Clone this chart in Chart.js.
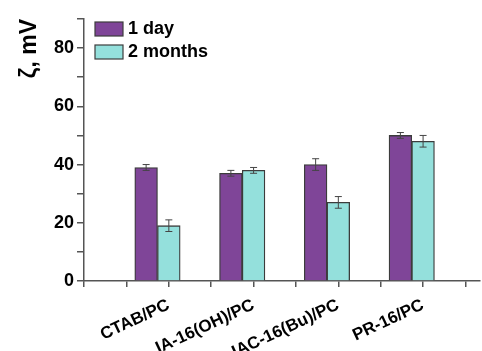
<!DOCTYPE html>
<html>
<head>
<meta charset="utf-8">
<script src="https://cdn.jsdelivr.net/npm/chart.js@4"></script>
<style>
  html, body { margin: 0; padding: 0; background: #fff; }
  #wrap { width: 482px; height: 351px; }
</style>
</head>
<body>
<div id="wrap"><canvas id="c" width="482" height="351"></canvas></div>
<script>
// Zeta potential of mixed micelles, freshly prepared vs. after storage
const categories = ['CTAB/PC', 'IA-16(OH)/PC', 'IAC-16(Bu)/PC', 'PR-16/PC'];
const oneDay = [39, 37, 40, 50];
const oneDayErr = [1, 1, 2, 1];
const twoMonths = [19, 38, 27, 48];
const twoMonthsErr = [2, 1, 2, 2];
const seriesNames = ['1 day', '2 months'];
const yTicks = [0, 20, 40, 60, 80];

const purple = '#7f4598';
const teal = '#94e0dc';
const edge = '#3c3c3c';
// each pair is drawn so that the second bar is centred on the category tick
const pairShift = 0.133;

const pts = (vals) => vals.map((v, i) => ({ x: i + 1 - pairShift, y: v }));

const errorBars = {
  id: 'errorBars',
  afterDatasetsDraw(chart) {
    const { ctx } = chart;
    const ys = chart.scales.y;
    ctx.save();
    ctx.strokeStyle = '#444';
    ctx.lineWidth = 1;
    chart.data.datasets.forEach((ds, di) => {
      const meta = chart.getDatasetMeta(di);
      meta.data.forEach((bar, i) => {
        const v = ds.data[i].y, e = ds.err[i];
        const x = bar.x;
        const yt = ys.getPixelForValue(v + e), yb = ys.getPixelForValue(v - e);
        ctx.beginPath();
        ctx.moveTo(x, yt); ctx.lineTo(x, yb);
        ctx.moveTo(x - 3.5, yt); ctx.lineTo(x + 3.5, yt);
        ctx.moveTo(x - 3.5, yb); ctx.lineTo(x + 3.5, yb);
        ctx.stroke();
      });
    });
    ctx.restore();
  }
};

const boxLegend = {
  id: 'boxLegend',
  afterDraw(chart) {
    const { ctx } = chart;
    const x0 = chart.chartArea.left + 11;
    let y0 = chart.chartArea.top + 3;
    ctx.save();
    ctx.font = 'bold 18px "Liberation Sans", Arial, sans-serif';
    ctx.textBaseline = 'middle';
    chart.data.datasets.forEach((ds) => {
      ctx.fillStyle = ds.backgroundColor;
      ctx.fillRect(x0, y0, 28, 14);
      ctx.strokeStyle = edge;
      ctx.lineWidth = 1.2;
      ctx.strokeRect(x0, y0, 28, 14);
      ctx.fillStyle = '#000';
      ctx.fillText(ds.label, x0 + 33, y0 + 7);
      y0 += 23;
    });
    ctx.restore();
  }
};

new Chart(document.getElementById('c'), {
  type: 'bar',
  data: {
    datasets: [
      { label: seriesNames[0], data: pts(oneDay), err: oneDayErr,
        backgroundColor: purple, borderColor: edge, borderWidth: 1.3 },
      { label: seriesNames[1], data: pts(twoMonths), err: twoMonthsErr,
        backgroundColor: teal, borderColor: edge, borderWidth: 1.3 }
    ]
  },
  options: {
    responsive: false,
    animation: false,
    devicePixelRatio: 1,
    layout: { padding: { top: 19, right: 0, left: 0, bottom: 0 } },
    datasets: { bar: { barThickness: 22.7 } },
    plugins: { legend: { display: false }, tooltip: { enabled: false } },
    scales: {
      x: {
        type: 'linear',
        min: 0,
        max: 4.67,
        offset: false,
        afterFit: (axis) => { axis.height = 70; },
        border: { display: true, color: '#555', width: 1.5 },
        grid: { offset: false, drawOnChartArea: false, drawTicks: true, tickLength: 6, color: '#555', lineWidth: 1.5 },
        ticks: {
          stepSize: 0.5,
          includeBounds: false,
          autoSkip: false,
          minRotation: 25,
          maxRotation: 25,
          padding: 8,
          color: '#000',
          font: { family: '"Liberation Sans", Arial, sans-serif', size: 17, weight: 'bold' },
          callback: (v) => (Number.isInteger(v) && v >= 1 && v <= categories.length) ? categories[v - 1] : ''
        }
      },
      y: {
        min: 0,
        max: 90,
        afterFit: (axis) => { axis.width = 84; },
        border: { display: true, color: '#555', width: 1.5 },
        grid: { drawOnChartArea: false, drawTicks: true, tickLength: 7, color: '#555', lineWidth: 1.5 },
        ticks: {
          stepSize: 10,
          includeBounds: false,
          padding: 3,
          color: '#000',
          font: { family: '"Liberation Sans", Arial, sans-serif', size: 18, weight: 'bold' },
          callback: (v) => yTicks.includes(v) ? String(v) : ''
        },
        title: {
          display: true,
          text: 'ζ, mV',
          align: 'end',
          color: '#000',
          padding: { top: 16, bottom: 4 },
          font: { family: '"Liberation Sans", Arial, sans-serif', size: 23, weight: 'bold' }
        }
      }
    }
  },
  plugins: [errorBars, boxLegend]
});
</script>
</body>
</html>
